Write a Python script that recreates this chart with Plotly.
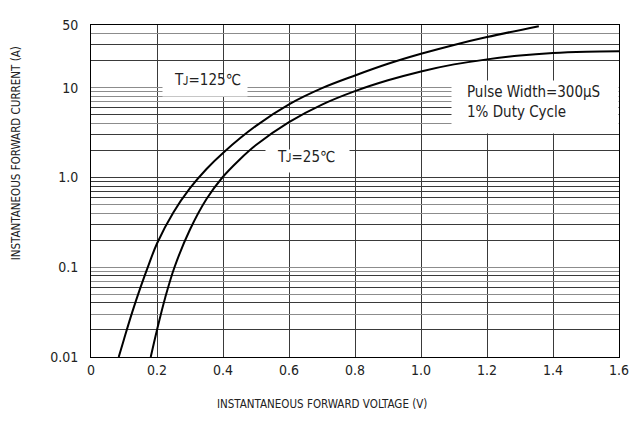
import math
import plotly.graph_objects as go

# ---- data ----
v_125 = [0.084, 0.10, 0.125, 0.15, 0.175, 0.2, 0.25, 0.3, 0.35, 0.4, 0.5, 0.6,
         0.7, 0.8, 0.9, 1.0, 1.1, 1.2, 1.357]
i_125 = [0.01, 0.0158, 0.0316, 0.0596, 0.107, 0.184, 0.41, 0.76, 1.245, 1.88, 3.76, 6.53,
         9.89, 13.7, 18.5, 23.9, 30.0, 36.7, 48.5]

v_25 = [0.181, 0.2, 0.225, 0.253, 0.3, 0.35, 0.398, 0.45, 0.5, 0.6, 0.7, 0.8,
        0.9, 1.0, 1.1, 1.2, 1.3, 1.4, 1.5, 1.6]
i_25 = [0.01, 0.02, 0.046, 0.1, 0.263, 0.575, 1.0, 1.58, 2.3, 4.14, 6.49, 9.16,
        12.1, 15.2, 18.2, 20.7, 22.9, 24.4, 25.2, 25.5]

x_ticks = [0, 0.2, 0.4, 0.6, 0.8, 1.0, 1.2, 1.4, 1.6]
x_labels = ["0", "0.2", "0.4", "0.6", "0.8", "1.0", "1.2", "1.4", "1.6"]

y_labelled = {0.01: "0.01", 0.1: "0.1", 1.0: "1.0", 10.0: "10", 50.0: "50"}
y_grid_dark = [0.01, 0.02, 0.04, 0.06, 0.08, 0.2, 0.3, 0.6, 0.7, 0.8, 0.9, 1.0,
               2.0, 3.0, 5.0, 6.0, 20.0, 30.0, 50.0]
y_grid_gray = [0.03, 0.05, 0.07, 0.09, 0.1, 0.4, 0.5, 4.0, 7.0, 8.0, 9.0, 10.0, 40.0]

FONT = "DejaVu Sans Condensed, DejaVu Sans, sans-serif"
TXT = "#222222"

fig = go.Figure()
for vx, iy in ((v_125, i_125), (v_25, i_25)):
    fig.add_trace(go.Scatter(x=vx, y=iy, mode="lines",
                             line=dict(color="black", width=2, shape="spline", smoothing=1.0),
                             showlegend=False, hoverinfo="skip"))
# invisible trace on the overlay axis so its grid renders
fig.add_trace(go.Scatter(x=[0], y=[1], yaxis="y2", mode="markers",
                         marker=dict(opacity=0), showlegend=False, hoverinfo="skip"))

all_y = sorted(set(y_grid_dark) | set(y_labelled))
yr = [-2, math.log10(50)]

# page has an 8px body margin: figure 630x434 puts plot area at 91..622 x 17..357
fig.update_layout(
    width=630, height=434,
    margin=dict(l=83, r=16, t=9, b=85),
    paper_bgcolor="white", plot_bgcolor="white",
    font=dict(family=FONT, size=13, color=TXT),
    xaxis=dict(range=[0, 1.6], tickvals=x_ticks, ticktext=x_labels,
               showgrid=True, gridcolor="#3a3a3a", gridwidth=1, zeroline=False,
               showline=True, linecolor="black", linewidth=1, mirror=True,
               ticks="", tickfont=dict(size=14, color=TXT)),
    yaxis=dict(type="log", range=yr,
               tickvals=all_y,
               ticktext=[y_labelled.get(v, "") for v in all_y],
               showgrid=True, gridcolor="#3a3a3a", gridwidth=1, zeroline=False,
               showline=True, linecolor="black", linewidth=1, mirror=True,
               ticks="", ticklabelstandoff=9, tickfont=dict(size=14, color=TXT)),
    yaxis2=dict(type="log", range=yr, overlaying="y", tickvals=y_grid_gray,
                showticklabels=False, showgrid=True, gridcolor="#8c8c8c",
                gridwidth=1.4, zeroline=False, showline=False, ticks=""),
)

# white label backgrounds (blank boxes), then the texts
boxes = [  # (x, y, width, height) in paper / px
    (0.2166, 0.8132, 82, 15),
    (0.4096, 0.591, 81, 20),
    (0.8418, 0.7529, 164, 50),
]
for bx, by, bw, bh in boxes:
    fig.add_annotation(xref="paper", yref="paper", x=bx, y=by, text=" ",
                       width=bw, height=bh, bgcolor="white", borderpad=1,
                       showarrow=False, xanchor="center", yanchor="middle")

fig.add_annotation(xref="paper", yref="paper", x=0.2203, y=0.833, text="Tᴊ=125℃",
                   xanchor="center", yanchor="middle",
                   showarrow=False, font=dict(size=15, color=TXT))
fig.add_annotation(xref="paper", yref="paper", x=0.4068, y=0.602, text="Tᴊ=25℃",
                   xanchor="center", yanchor="middle",
                   showarrow=False, font=dict(size=15, color=TXT))
fig.add_annotation(xref="paper", yref="paper", x=0.7081, y=0.7676, xanchor="left",
                   yanchor="middle", align="left",
                   text="Pulse Width=300μS<br>1% Duty Cycle",
                   showarrow=False, font=dict(size=15, color=TXT))

fig.add_annotation(xref="paper", yref="paper", x=0.2354, y=-0.1412, xanchor="left",
                   yanchor="middle", text="INSTANTANEOUS FORWARD VOLTAGE (V)",
                   showarrow=False, font=dict(size=11.5, color=TXT))
fig.add_annotation(xref="paper", yref="paper", x=-0.1431, y=0.615, textangle=-90,
                   xanchor="center", yanchor="middle",
                   text="INSTANTANEOUS FORWARD CURRENT (A)", showarrow=False,
                   font=dict(size=11.5, color=TXT))

fig.write_html("out.html")
